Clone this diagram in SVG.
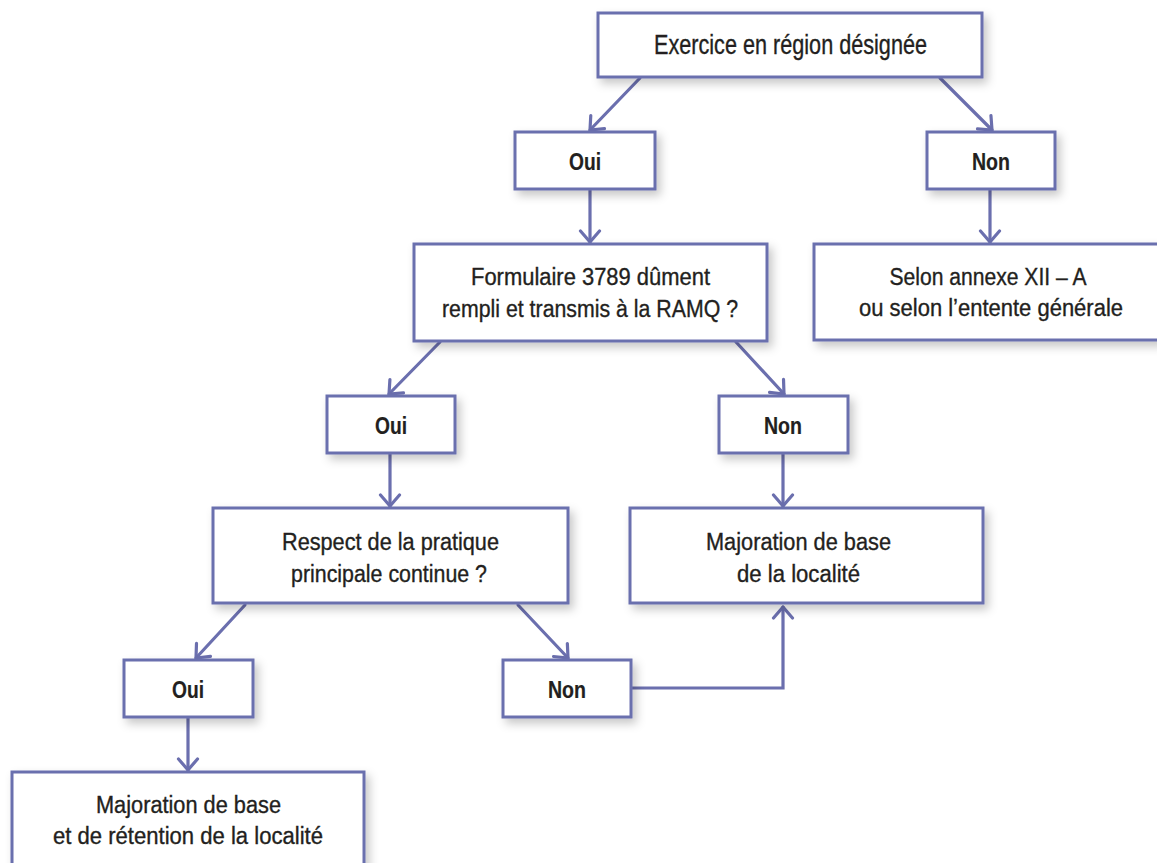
<svg xmlns="http://www.w3.org/2000/svg" width="1157" height="863" viewBox="0 0 1157 863">
<defs>
<filter id="sh" x="-20%" y="-30%" width="150%" height="170%">
<feDropShadow dx="4" dy="5" stdDeviation="5" flood-color="#000" flood-opacity="0.22"/>
</filter>
<marker id="ah" viewBox="-14 -12 16 24" markerWidth="16" markerHeight="24" refX="0" refY="0" orient="auto" markerUnits="userSpaceOnUse">
<path d="M-11,-9.5 L0,0 L-11,9.5" fill="none" stroke="#6b6fae" stroke-width="3.2" stroke-linecap="round" stroke-linejoin="round"/>
</marker>
</defs>
<style>
.box{fill:#fff;stroke:#6b6fae;stroke-width:3;filter:url(#sh)}
.t{font-family:"Liberation Sans",Arial,sans-serif;font-size:23.5px;fill:#231f20;stroke:#231f20;stroke-width:0.35;text-anchor:middle}
.big{font-size:27px}
.b{font-weight:bold;stroke-width:0.2}
.c{fill:none;stroke:#6b6fae;stroke-width:3.2;stroke-linecap:round}
</style>
<g id="connectors">
<line class="c" x1="640" y1="78" x2="590" y2="130" marker-end="url(#ah)"/>
<line class="c" x1="940" y1="78" x2="992" y2="130" marker-end="url(#ah)"/>
<line class="c" x1="590" y1="190" x2="590" y2="242" marker-end="url(#ah)"/>
<line class="c" x1="990" y1="190" x2="990" y2="242" marker-end="url(#ah)"/>
<line class="c" x1="440" y1="342" x2="389" y2="394" marker-end="url(#ah)"/>
<line class="c" x1="736" y1="342" x2="784" y2="394" marker-end="url(#ah)"/>
<line class="c" x1="390" y1="454" x2="390" y2="506" marker-end="url(#ah)"/>
<line class="c" x1="783" y1="454" x2="783" y2="506" marker-end="url(#ah)"/>
<line class="c" x1="245" y1="605" x2="196" y2="658" marker-end="url(#ah)"/>
<line class="c" x1="518" y1="605" x2="568" y2="658" marker-end="url(#ah)"/>
<line class="c" x1="188" y1="718" x2="188" y2="770" marker-end="url(#ah)"/>
<polyline class="c" points="632,688 783,688 783,607" marker-end="url(#ah)"/>
</g>
<g id="n1"><rect class="box" x="598" y="13" width="384" height="64"/><text class="t big" x="790.5" y="54" textLength="273" lengthAdjust="spacingAndGlyphs">Exercice en région désignée</text></g>
<g id="n2"><rect class="box" x="515" y="132" width="140" height="57"/><text class="t b" x="585" y="170" textLength="32" lengthAdjust="spacingAndGlyphs">Oui</text></g>
<g id="n3"><rect class="box" x="927" y="132" width="128" height="57"/><text class="t b" x="991" y="170" textLength="38" lengthAdjust="spacingAndGlyphs">Non</text></g>
<g id="n4"><rect class="box" x="414" y="244" width="353" height="97"/><text class="t" x="590.5" y="285" textLength="239" lengthAdjust="spacingAndGlyphs">Formulaire 3789 dûment</text><text class="t" x="590" y="317" textLength="296" lengthAdjust="spacingAndGlyphs">rempli et transmis à la RAMQ ?</text></g>
<g id="n5"><rect class="box" x="814" y="244" width="345" height="96"/><text class="t" x="988" y="285" textLength="197" lengthAdjust="spacingAndGlyphs">Selon annexe XII – A</text><text class="t" x="991" y="316" textLength="264" lengthAdjust="spacingAndGlyphs">ou selon l’entente générale</text></g>
<g id="n6"><rect class="box" x="327" y="396" width="128" height="57"/><text class="t b" x="391" y="434" textLength="32" lengthAdjust="spacingAndGlyphs">Oui</text></g>
<g id="n7"><rect class="box" x="719" y="396" width="129" height="57"/><text class="t b" x="783" y="434" textLength="38" lengthAdjust="spacingAndGlyphs">Non</text></g>
<g id="n8"><rect class="box" x="213" y="508" width="355" height="95"/><text class="t" x="390.5" y="550" textLength="217" lengthAdjust="spacingAndGlyphs">Respect de la pratique</text><text class="t" x="389" y="582" textLength="196" lengthAdjust="spacingAndGlyphs">principale continue ?</text></g>
<g id="n9"><rect class="box" x="630" y="508" width="353" height="95"/><text class="t" x="798.5" y="550" textLength="185" lengthAdjust="spacingAndGlyphs">Majoration de base</text><text class="t" x="798.5" y="582" textLength="123" lengthAdjust="spacingAndGlyphs">de la localité</text></g>
<g id="n10"><rect class="box" x="124" y="660" width="129" height="57"/><text class="t b" x="188" y="698" textLength="32" lengthAdjust="spacingAndGlyphs">Oui</text></g>
<g id="n11"><rect class="box" x="503" y="660" width="128" height="57"/><text class="t b" x="567" y="698" textLength="38" lengthAdjust="spacingAndGlyphs">Non</text></g>
<g id="n12"><rect class="box" x="12" y="772" width="352" height="100"/><text class="t" x="188.5" y="813" textLength="185" lengthAdjust="spacingAndGlyphs">Majoration de base</text><text class="t" x="188" y="844" textLength="270" lengthAdjust="spacingAndGlyphs">et de rétention de la localité</text></g>
</svg>
